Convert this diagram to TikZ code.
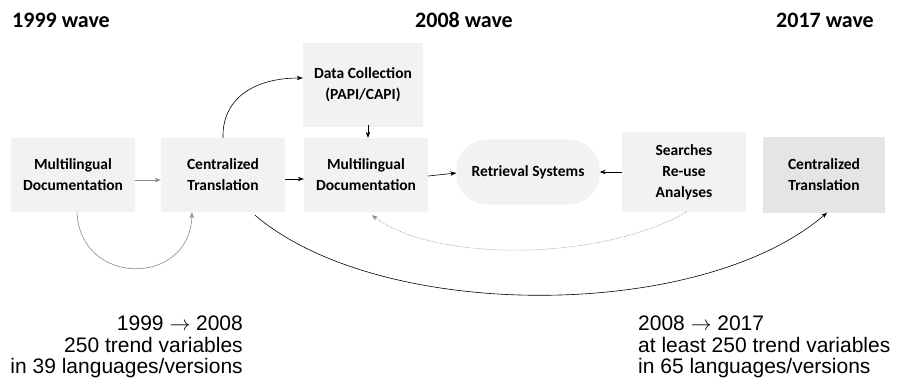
\documentclass[tikz,border=0pt]{standalone}
\usepackage{fontspec}
\setmainfont{Carlito}
\newfontfamily\notefont{Liberation Sans}
\usetikzlibrary{arrows.meta}

\definecolor{boxgray}{HTML}{F2F2F2}
\definecolor{darkbox}{HTML}{E5E5E5}
\definecolor{arcgray}{HTML}{8A8A8A}

\begin{document}
\begin{tikzpicture}[x=1pt,y=-1pt,
  stage/.style={fill=boxgray, align=center, inner sep=0pt,
    minimum width=124pt, minimum height=74pt,
    font=\fontsize{15.5}{21}\selectfont\bfseries},
  wave/.style={font=\fontsize{22}{24}\selectfont\bfseries, inner sep=0pt},
  note/.style={font=\notefont\fontsize{21}{21.5}\selectfont, inner sep=0pt},
  flow/.style={-{Stealth[length=6pt,width=4.5pt]}, semithick},
  ]

% Canvas
\useasboundingbox (0,0) rectangle (899,385);

% Wave headings
\node[wave, anchor=west] (w1999) at (12,20) {1999 wave};
\node[wave] (w2008) at (464,20) {2008 wave};
\node[wave] (w2017) at (825,20) {2017 wave};

% Boxes of the 2008 row
\node[stage] (doc1) at (73,175) {Multilingual\\Documentation};
\node[stage] (trans1) at (223,175) {Centralized\\Translation};
\node[stage, minimum width=120pt, minimum height=84pt] (collect) at (363,85) {Data Collection\\(PAPI/CAPI)};
\node[stage] (doc2) at (366,175) {Multilingual\\Documentation};
\node[stage, rounded corners=30pt, minimum width=143pt, minimum height=65pt] (retrieve) at (528,172) {Retrieval Systems};
\node[stage, minimum height=79pt] (search) at (684,172) {Searches\\Re-use\\Analyses};
\node[stage, fill=darkbox, minimum width=122pt, minimum height=75pt] (trans2) at (824,175) {Centralized\\Translation};

% Straight arrows
\draw[flow, arcgray] ([yshift=-5pt]doc1.east) -- ([yshift=-5pt]trans1.west);
\draw[flow] ([yshift=-4pt]trans1.east) -- ([yshift=-4pt]doc2.west);
\draw[flow] ([xshift=5pt,yshift=2pt]collect.south) -- ([xshift=5pt]collect.south |- doc2.north);
\draw[flow] ([yshift=-1pt]doc2.east) -- ([yshift=-1pt]retrieve.west);
\draw[flow] (search.west) -- (retrieve.east);

% Curved arrows
\draw[flow] (trans1.north) .. controls (222,100) and (252,78) .. ([yshift=7pt]collect.west);
\draw[flow, arcgray] ([xshift=4pt]doc1.south) .. controls (80,287) and (190,287) .. ([xshift=-31pt]trans1.south);
\draw[flow] ([xshift=32pt,yshift=-3pt]trans1.south) .. controls (380,322) and (700,322) .. ([xshift=3pt]trans2.south);
\draw[flow, arcgray, densely dotted] ([xshift=3pt]search.south) .. controls (600,262) and (434,262) .. ([xshift=6pt,yshift=-3pt]doc2.south);

% Notes
\node[note, anchor=north east, align=right] (note1) at (243,316) {1999 $\rightarrow$ 2008\\250 trend variables\\in 39 languages/versions};
\node[note, anchor=north west, align=left] (note2) at (638,316) {2008 $\rightarrow$ 2017\\at least 250 trend variables\\in 65 languages/versions};

\end{tikzpicture}
\end{document}
